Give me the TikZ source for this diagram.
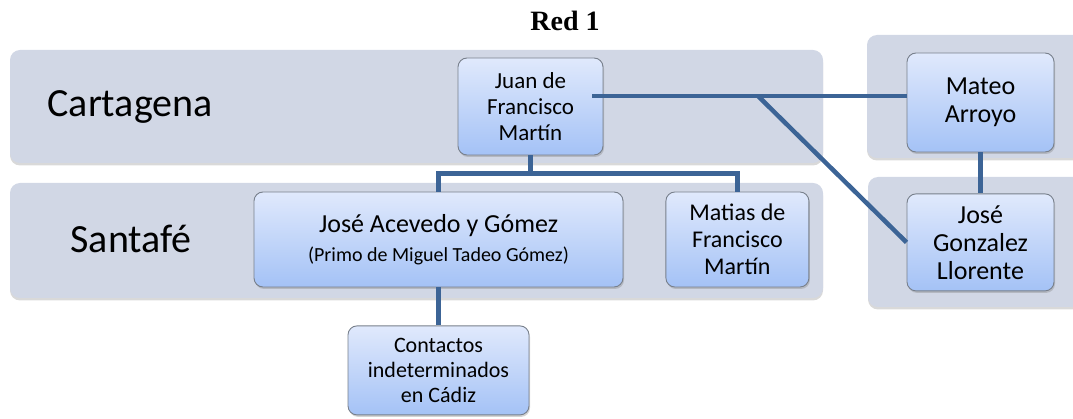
\documentclass[tikz,border=0pt]{standalone}
\usepackage{fontspec}
\setmainfont{Carlito}
\newfontfamily\titlefont{Liberation Serif}
\usetikzlibrary{positioning,shadows}
\definecolor{bandgray}{RGB}{209,215,229}
\definecolor{boxtop}{RGB}{224,233,252}
\definecolor{boxbottom}{RGB}{164,194,246}
\definecolor{boxedge}{RGB}{120,128,140}
\definecolor{linkblue}{RGB}{60,100,150}

\begin{document}
\begin{tikzpicture}[x=1pt, y=-1pt,
  band/.style={fill=bandgray, rounded corners=10pt, drop shadow={shadow xshift=0pt, shadow yshift=-2.5pt, opacity=0.3}},
  person/.style={draw=boxedge, line width=0.9pt, rounded corners=9pt, top color=boxtop, bottom color=boxbottom, align=center, inner sep=0pt, drop shadow={shadow xshift=1pt, shadow yshift=-2pt, opacity=0.35}},
  place/.style={anchor=base west, font=\fontsize{40}{44}\selectfont},
  link/.style={draw=linkblue, line width=4.5pt}]
\useasboundingbox (0,0) rectangle (1073,419);
\path[band] (10,50) rectangle (823,163);
\path[band] (10,183) rectangle (823,298);
\path[band] (867,35) rectangle (1095,158);
\path[band] (868,177) rectangle (1095,307);
\node[anchor=base, font=\titlefont\bfseries\fontsize{28}{30}\selectfont] (title) at (565,31) {Red 1};
\node[place] (cartagena) at (44,117) {Cartagena};
\node[place] (santafe) at (67,253) {Santafé};
\node[person, minimum width=145pt, minimum height=97pt, font=\fontsize{23}{26}\selectfont] (juan) at (530.5,106.5) {Juan de\\Francisco\\Martín};
\node[person, minimum width=147pt, minimum height=99pt, font=\fontsize{26}{28}\selectfont] (mateo) at (980.5,102.5) {Mateo\\Arroyo};
\node[person, minimum width=147pt, minimum height=97pt, font=\fontsize{26}{28}\selectfont, below=41pt of mateo] (gonzalez) {José\\Gonzalez\\Llorente};
\node[person, minimum width=369pt, minimum height=95pt, font=\fontsize{26}{29}\selectfont] (acevedo) at (438.5,239.5) {José Acevedo y Gómez\\{\fontsize{20}{24}\selectfont(Primo de Miguel Tadeo Gómez)}};
\node[person, minimum width=143pt, minimum height=95pt, font=\fontsize{24}{27}\selectfont, right=42pt of acevedo] (matias) {Matias de\\Francisco\\Martín};
\node[person, minimum width=181pt, minimum height=89pt, font=\fontsize{22}{25}\selectfont, below=38pt of acevedo] (contactos) {Contactos\\indeterminados\\en Cádiz};
\coordinate (fork) at (758,96);
\draw[link] ([xshift=-11pt]juan.east |- fork) -- (fork) -- (mateo.west |- fork);
\draw[link] (fork) -- (gonzalez.west);
\draw[link] (mateo.south) -- (gonzalez.north);
\draw[link] (juan.south) -- ++(0,18) -| (acevedo.north);
\draw[link] (juan.south) -- ++(0,18) -| (matias.north);
\draw[link] (acevedo.south) -- (contactos.north);
\end{tikzpicture}
\end{document}
